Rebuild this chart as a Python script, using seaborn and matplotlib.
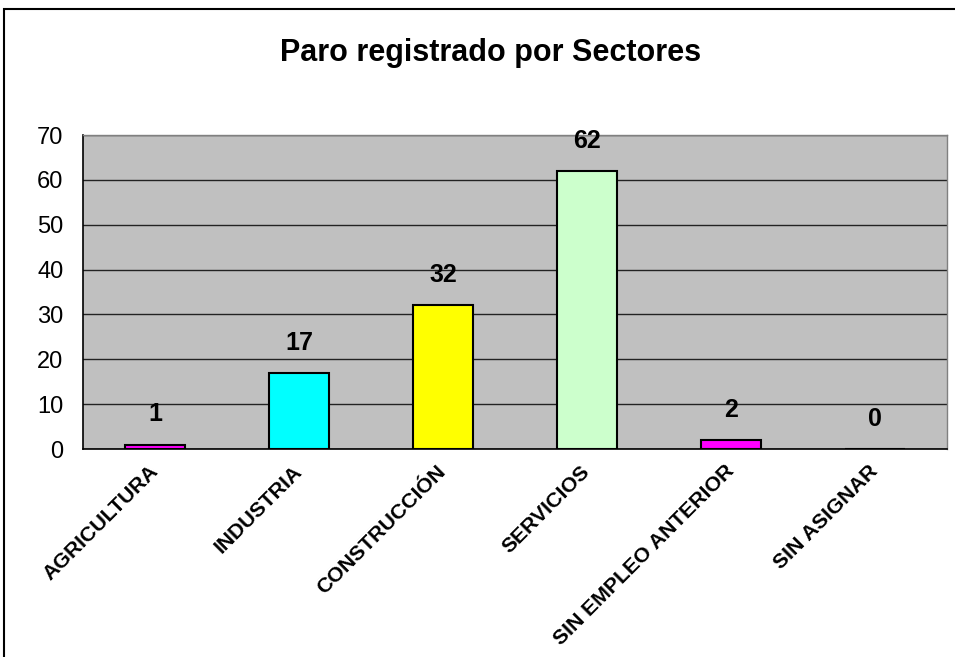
import seaborn as sns
import matplotlib.pyplot as plt
from matplotlib.patches import Rectangle
import pandas as pd

sectores = ['AGRICULTURA', 'INDUSTRIA', 'CONSTRUCCIÓN', 'SERVICIOS', 'SIN EMPLEO ANTERIOR', 'SIN ASIGNAR']
parados = [1, 17, 32, 62, 2, 0]
colores = ['#FF00FF', '#00FFFF', '#FFFF00', '#CCFFCC', '#FF00FF', '#9999FF']

df = pd.DataFrame({'sector': sectores, 'parados': parados})

sns.set_style('white')
plt.rcParams['font.family'] = ['Liberation Sans', 'DejaVu Sans']
plt.rcParams['text.color'] = 'black'
plt.rcParams['xtick.color'] = 'black'
plt.rcParams['ytick.color'] = 'black'

fig = plt.figure(figsize=(9.55, 6.57), dpi=100)
ax = fig.add_axes([83/955, 1-449/657, (947-83)/955, (449-135)/657])
ax.set_facecolor('#C0C0C0')

sns.barplot(data=df, x='sector', y='parados', hue='sector', palette=colores, saturation=1,
            legend=False, width=0.41, edgecolor='black', linewidth=1.5, ax=ax, zorder=3)

ax.set_ylim(0, 70)
ax.set_xlim(-0.5, len(sectores) - 0.5)
ax.set_yticks(range(0, 71, 10))
ax.yaxis.grid(True, color='#222222', linewidth=1, zorder=0)
ax.set_axisbelow(True)
ax.set_xlabel('')
ax.set_ylabel('')

# etiquetas de valor
for i, v in enumerate(parados):
    ax.annotate(str(v), (i, v), xytext=(0, 13), textcoords='offset points',
                ha='center', va='bottom', fontsize=18, fontweight='bold')

# ticks en los limites de categoria, etiquetas en el centro
ax.set_xticks(range(len(sectores)))
ax.set_xticklabels(sectores, rotation=45, ha='right', va='center',
                   rotation_mode='anchor', fontsize=15.3, fontweight='bold')
ax.set_xticks([i - 0.5 for i in range(len(sectores) + 1)], minor=True)
ax.tick_params(axis='x', which='major', length=0, pad=14)
ax.tick_params(axis='x', which='minor', length=6, width=1, color='black', direction='out')
ax.tick_params(axis='y', length=6, width=1, color='black', direction='out', labelsize=17, pad=8)

for s in ['left', 'bottom']:
    ax.spines[s].set_color('black')
    ax.spines[s].set_linewidth(1.2)
for s in ['top', 'right']:
    ax.spines[s].set_color('#808080')
    ax.spines[s].set_linewidth(1)

fig.text(491/955, 1-53/657, 'Paro registrado por Sectores', ha='center', va='center',
         fontsize=22, fontweight='bold')

fig.add_artist(Rectangle((4/955, -0.1), 1.2, 1-9/657+0.1, transform=fig.transFigure,
                         fill=False, edgecolor='black', linewidth=1.5))

fig.savefig('out.png', dpi=100, facecolor='white')
